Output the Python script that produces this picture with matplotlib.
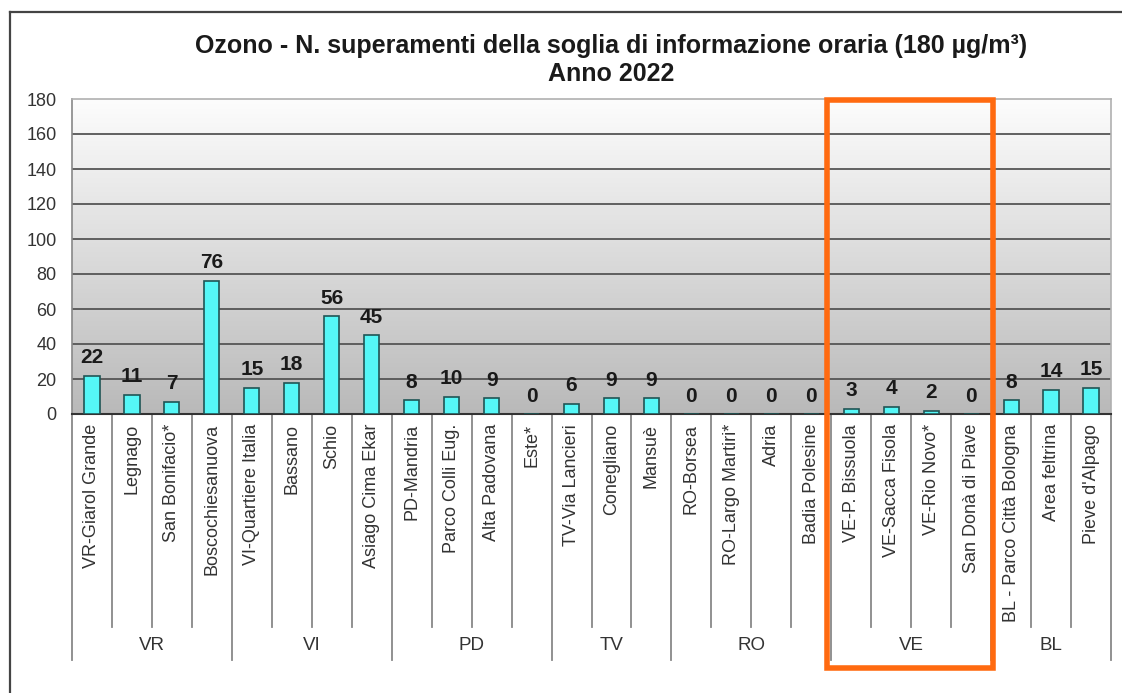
import matplotlib
matplotlib.use("Agg")
import matplotlib.pyplot as plt
import numpy as np
from matplotlib.colors import LinearSegmentedColormap
from matplotlib.patches import Rectangle
from matplotlib.lines import Line2D

plt.rcParams['font.family'] = ['Liberation Sans', 'DejaVu Sans']

# Stations, their province groups and hourly-threshold exceedance counts
stations = [
    "VR-Giarol Grande", "Legnago", "San Bonifacio*", "Boscochiesanuova",
    "VI-Quartiere Italia", "Bassano", "Schio", "Asiago Cima Ekar",
    "PD-Mandria", "Parco Colli Eug.", "Alta Padovana", "Este*",
    "TV-Via Lancieri", "Conegliano", "Mansuè",
    "RO-Borsea", "RO-Largo Martiri*", "Adria", "Badia Polesine",
    "VE-P. Bissuola", "VE-Sacca Fisola", "VE-Rio Novo*", "San Donà di Piave",
    "BL - Parco Città Bologna", "Area feltrina", "Pieve d'Alpago",
]
exceedances = [22, 11, 7, 76,
               15, 18, 56, 45,
               8, 10, 9, 0,
               6, 9, 9,
               0, 0, 0, 0,
               3, 4, 2, 0,
               8, 14, 15]
provinces = ["VR", "VI", "PD", "TV", "RO", "VE", "BL"]
province_sizes = [4, 4, 4, 3, 4, 4, 3]
y_ticks = [0, 20, 40, 60, 80, 100, 120, 140, 160, 180]

title = "Ozono - N. superamenti della soglia di informazione oraria (180 µg/m³)\nAnno 2022"

W, H = 1122, 693
fig = plt.figure(figsize=(W / 100, H / 100), dpi=100)

# plot area in pixels
x0, x1 = 72, 1111
y_top, y_bot = 99, 414
ax = fig.add_axes([x0 / W, 1 - y_bot / H, (x1 - x0) / W, (y_bot - y_top) / H])

n = len(stations)
xs = np.arange(n)
ax.set_xlim(-0.5, n - 0.5)
ax.set_ylim(0, 180)

# background gradient, light at top, grey at bottom
cmap = LinearSegmentedColormap.from_list("bg", ["#b9b9b9", "#fdfdfd"])
grad = np.linspace(0, 1, 256).reshape(-1, 1)
ax.imshow(grad, extent=[-0.5, n - 0.5, 0, 180], origin="lower",
          aspect="auto", cmap=cmap, zorder=0)

for t in y_ticks[1:-1]:
    ax.axhline(t, color="#555555", lw=1.3, zorder=1)

ax.bar(xs, exceedances, width=0.38, color="#55f7f7", edgecolor="#1f5555",
       lw=1.2, zorder=3)

for x, v in zip(xs, exceedances):
    ax.annotate(str(v), (x, v), xytext=(0, 18), textcoords="offset pixels",
                ha="center", va="center", fontsize=15, fontweight="bold",
                color="#1a1a1a", zorder=4)

ax.set_yticks(y_ticks)
ax.set_yticklabels([str(t) for t in y_ticks], fontsize=13, color="#333333")
ax.tick_params(axis="y", length=0, pad=11)
ax.set_xticks([])

for side in ["top", "right"]:
    ax.spines[side].set_color("#b0b0b0")
    ax.spines[side].set_linewidth(1.2)
ax.spines["left"].set_color("#888888")
ax.spines["left"].set_linewidth(1.2)
ax.spines["bottom"].set_color("#333333")
ax.spines["bottom"].set_linewidth(1.5)


def ay(ypix):
    """pixel row -> axes fraction"""
    return (y_bot - ypix) / (y_bot - y_top)


trans = ax.get_xaxis_transform()

# station names
for x, name in zip(xs, stations):
    ax.text(x, ay(424), name, transform=trans, rotation=90, ha="center",
            va="top", fontsize=13, color="#333333", clip_on=False)

# separators between stations and between provinces
bounds = np.cumsum([0] + province_sizes)
group_edges = set(bounds.tolist())
for b in range(n + 1):
    bottom = ay(660) if b in group_edges else ay(627)
    ax.add_line(Line2D([b - 0.5, b - 0.5], [0, bottom], transform=trans,
                       color="#888888", lw=1.3, clip_on=False))

for name, a, b in zip(provinces, bounds[:-1], bounds[1:]):
    ax.text((a + b - 1) / 2, ay(646), name, transform=trans, ha="center",
            va="center", fontsize=13.5, color="#333333", clip_on=False)

fig.text(611 / W, 1 - 60 / H, title, ha="center", va="center", fontsize=18,
         fontweight="bold", color="#1a1a1a", linespacing=1.18)

# highlight box around the VE group
fig.add_artist(Rectangle((827 / W, 1 - 668 / H), (993 - 827) / W, (668 - 100) / H,
                         transform=fig.transFigure, fill=False,
                         edgecolor="#ff6a10", lw=4.0, zorder=10))

# outer frame
fig.add_artist(Line2D([10 / W, 10 / W], [0, 1 - 12 / H], transform=fig.transFigure,
                      color="#444444", lw=1.6))
fig.add_artist(Line2D([10 / W, 1], [1 - 12 / H, 1 - 12 / H], transform=fig.transFigure,
                      color="#444444", lw=1.6))

fig.savefig("out.png", dpi=100)
